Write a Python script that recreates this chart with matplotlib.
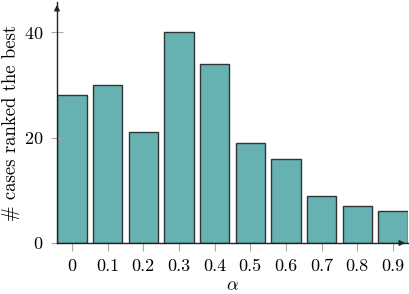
import matplotlib
matplotlib.use("Agg")
import matplotlib.pyplot as plt

# data
alphas = ["0", "0.1", "0.2", "0.3", "0.4", "0.5", "0.6", "0.7", "0.8", "0.9"]
counts = [28, 30, 21, 40, 34, 19, 16, 9, 7, 6]

plt.rcParams['font.family'] = ['cmr10', 'DejaVu Serif']
plt.rcParams['mathtext.fontset'] = 'cm'
plt.rcParams['axes.formatter.use_mathtext'] = True

fig = plt.figure(figsize=(4.10, 2.94), dpi=100)
ax = fig.add_axes([0.139, 0.1735, 0.856, 0.8195])

pos = list(range(len(alphas)))
ax.bar(pos, counts, width=0.82, color='#66b2b2', edgecolor='#333333', linewidth=1.0)

ax.set_xlim(-0.42, 9.42)
ax.set_ylim(0, 45.7)
ax.set_xticks(pos)
ax.set_xticklabels(alphas)
ax.set_yticks([0, 20, 40])

ax.spines['top'].set_visible(False)
ax.spines['right'].set_visible(False)
for s in ['left', 'bottom']:
    ax.spines[s].set_linewidth(1.0)
    ax.spines[s].set_color('#222222')

ax.tick_params(axis='x', direction='out', length=6, color='#aaaaaa', labelsize=13, pad=5)
ax.tick_params(axis='y', direction='inout', length=8, color='#aaaaaa', labelsize=13, pad=6)

# arrow heads at the end of the axes
ax.annotate('', xy=(1.0, 0), xytext=(0.97, 0), xycoords='axes fraction',
            arrowprops=dict(arrowstyle='-|>', color='#222222', lw=1.0, mutation_scale=8))
ax.annotate('', xy=(0, 1.0), xytext=(0, 0.96), xycoords='axes fraction',
            arrowprops=dict(arrowstyle='-|>', color='#222222', lw=1.0, mutation_scale=8))

ax.set_xlabel(r'$\alpha$', fontsize=13, labelpad=3)
ax.set_ylabel('# cases ranked the best', fontsize=13.5, labelpad=3)

fig.savefig('out.png', dpi=100)
